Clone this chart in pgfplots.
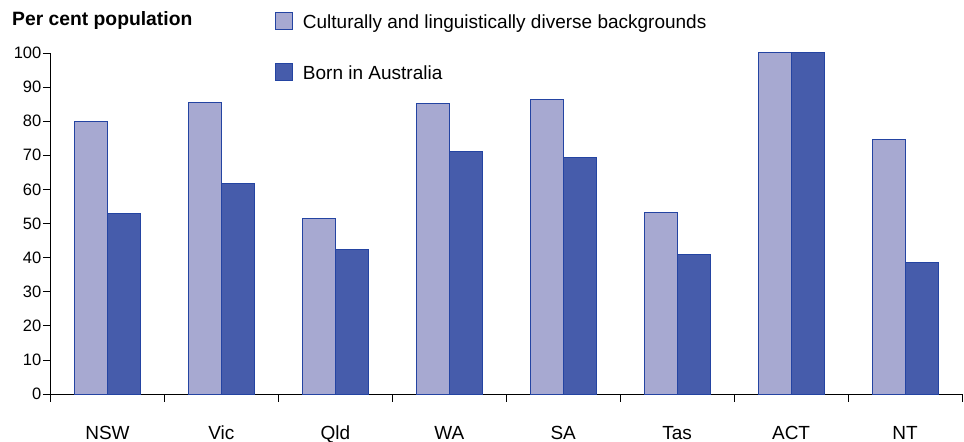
\documentclass[border=0pt]{standalone}
\usepackage{pgfplots}
\pgfplotsset{compat=1.18}
\usepackage{fontspec}
\setmainfont{Liberation Sans}
\definecolor{lightbar}{HTML}{A7A9D1}
\definecolor{darkbar}{HTML}{465CAB}
\definecolor{edgeblue}{HTML}{2444A2}
\pgfplotsset{sq legend/.style={legend image code/.code={\draw[##1] (0bp,-8.5bp) rectangle (17bp,8.5bp);}}}
\begin{document}
\begin{tikzpicture}
\begin{axis}[
  scale only axis, width=911.5bp, height=341bp,
  xmin=-0.5, xmax=7.5, ymin=0, ymax=100,
  axis lines*=left,
  clip=false,
  ybar=0pt, bar width=33bp,
  xtick={-0.5,0.5,...,7.5}, xticklabels={},
  extra x ticks={0,1,...,7},
  extra x tick labels={NSW,Vic,Qld,WA,SA,Tas,ACT,NT},
  extra x tick style={major tick length=0pt},
  xticklabel style={font=\fontsize{19bp}{22bp}\selectfont, anchor=base, yshift=-45bp, inner sep=0pt},
  ytick={0,10,...,100},
  yticklabel style={font=\fontsize{16.5bp}{18bp}\selectfont, inner sep=1.5bp},
  /pgf/number format/assume math mode=true,
  tick align=outside, major tick length=7.5bp,
  tick style={black, line width=0.8bp},
  axis line style={black, line width=0.8bp},
  legend style={at={(axis cs:1.47,112)}, anchor=north west, draw=none, fill=none,
    inner sep=0pt, outer sep=0pt, row sep=33bp, column sep=10bp,
    font=\fontsize{19bp}{22bp}\selectfont,
    nodes={inner sep=0pt, text height=14bp, text depth=0bp}},
  legend cell align=left,
]
\coordinate (sw) at (axis cs:-0.5,0);
\addplot[fill=lightbar, draw=edgeblue, line width=1bp, sq legend] coordinates {(0,79.9) (1,85.4) (2,51.6) (3,85.1) (4,86.4) (5,53.3) (6,100) (7,74.7)};
\addlegendentry{Culturally and linguistically diverse backgrounds}
\addplot[fill=darkbar, draw=edgeblue, line width=1bp, sq legend] coordinates {(0,52.8) (1,61.6) (2,42.4) (3,71.2) (4,69.3) (5,40.9) (6,100) (7,38.6)};
\addlegendentry{Born in Australia}
\end{axis}
\node[anchor=base west, inner sep=0pt, font=\bfseries\fontsize{19.3bp}{22bp}\selectfont] at ([shift={(-38.5bp,368.7bp)}]sw) {Per cent population};
\pgfresetboundingbox
\path[use as bounding box] ([shift={(-50.5bp,-48bp)}]sw) rectangle ([shift={(913.5bp,394bp)}]sw);
\end{tikzpicture}
\end{document}
